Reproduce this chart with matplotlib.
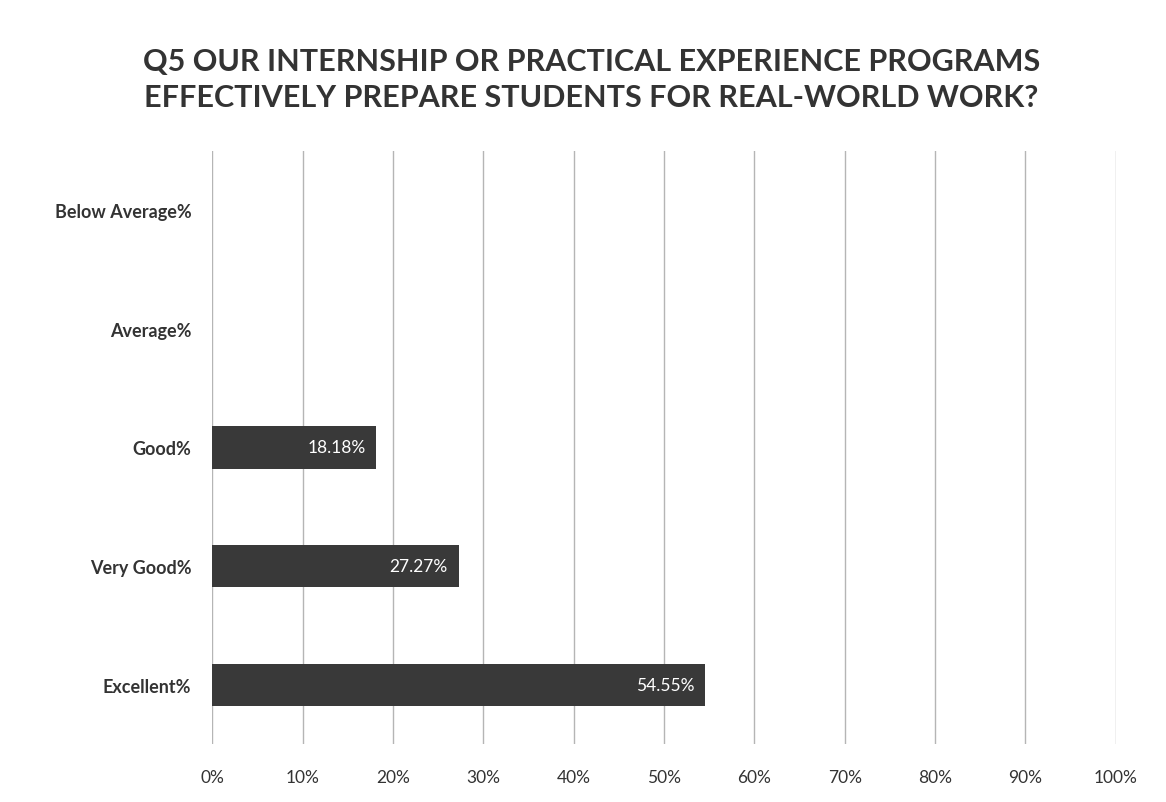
import matplotlib.pyplot as plt
import numpy as np

categories = ["Excellent%", "Very Good%", "Good%", "Average%", "Below Average%"]
values = [54.55, 27.27, 18.18, 0, 0]
labels = ["54.55%", "27.27%", "18.18%", "", ""]
xticks = [0, 10, 20, 30, 40, 50, 60, 70, 80, 90, 100]

plt.rcParams["font.family"] = ["Lato", "DejaVu Sans"]

fig = plt.figure(figsize=(11.66, 8.03), dpi=100)
ax = fig.add_axes([0.182, 0.072, 0.775, 0.739])

y = np.arange(len(categories))
bars = ax.barh(y, values, height=0.355, color="#393939", zorder=3)

for bar, lab in zip(bars, labels):
    if lab:
        ax.text(bar.get_width() - 1.2, bar.get_y() + bar.get_height() / 2, lab,
                ha="right", va="center", color="white", fontsize=12.5, zorder=4)

ax.set_xlim(0, 100)
ax.set_ylim(-0.5, len(categories) - 0.5)
ax.set_xticks(xticks)
ax.set_xticklabels([f"{t}%" for t in xticks], fontsize=12.5, color="#333333")
ax.set_yticks(y)
ax.set_yticklabels(categories, fontsize=13, fontweight="bold", color="#333333")
ax.tick_params(axis="y", length=0, pad=15)
ax.tick_params(axis="x", length=0, pad=18)
ax.xaxis.grid(True, color="#b5b5b5", linewidth=1, zorder=0)
for s in ax.spines.values():
    s.set_visible(False)

fig.text(0.507, 0.9, "Q5 OUR INTERNSHIP OR PRACTICAL EXPERIENCE PROGRAMS\nEFFECTIVELY PREPARE STUDENTS FOR REAL-WORLD WORK?",
         ha="center", va="center", fontsize=22, fontweight="bold", color="#333333",
         linespacing=1.35)

fig.savefig("out.png", dpi=100, facecolor="white")
